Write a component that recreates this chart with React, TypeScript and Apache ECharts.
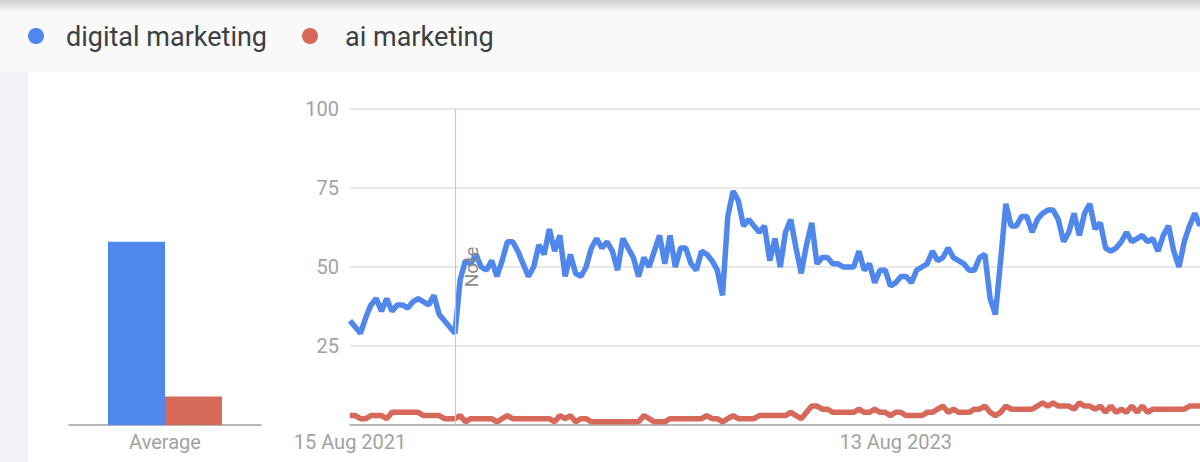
import { useEffect, useRef } from 'react';
import * as echarts from 'echarts';

const seriesNames = ['digital marketing', 'ai marketing'];
const seriesColors = ['#4f87ec', '#d7695b'];

// weekly interest, starting 15 Aug 2021
const digitalMarketing = [
  33, 31, 29, 34, 38, 40, 36, 40, 36, 38,
  38, 37, 39, 40, 39, 38, 41, 35, 33, 31,
  29, 46, 52, 51, 54, 50, 49, 52, 47, 52,
  58, 58, 55, 51, 47, 50, 57, 54, 62, 55,
  60, 47, 54, 48, 47, 50, 56, 59, 56, 58,
  55, 49, 59, 56, 53, 47, 53, 50, 55, 60,
  51, 60, 50, 56, 56, 51, 49, 55, 54, 52,
  49, 41, 66, 74, 71, 63, 65, 63, 61, 63,
  52, 59, 50, 61, 65, 56, 48, 57, 64, 51,
  53, 53, 51, 51, 50, 50, 50, 55, 49, 51,
  45, 49, 49, 44, 45, 47, 47, 45, 49, 50,
  51, 55, 52, 53, 56, 53, 52, 51, 49, 49,
  53, 54, 40, 35, 52, 70, 63, 63, 66, 66,
  61, 65, 67, 68, 68, 65, 58, 61, 67, 60,
  67, 70, 62, 64, 56, 55, 56, 58, 61, 58,
  59, 60, 58, 59, 55, 60, 63, 55, 50, 58,
  63, 67, 63,
];
const aiMarketing = [
  3, 3, 2, 2, 3, 3, 3, 2, 4, 4,
  4, 4, 4, 4, 3, 3, 3, 3, 2, 2,
  2, 3, 1, 2, 2, 2, 2, 2, 1, 2,
  3, 2, 2, 2, 2, 2, 2, 2, 2, 1,
  3, 2, 3, 1, 2, 2, 1, 1, 1, 1,
  1, 1, 1, 1, 1, 1, 3, 2, 1, 1,
  1, 2, 2, 2, 2, 2, 2, 2, 3, 2,
  2, 1, 2, 3, 2, 2, 2, 2, 3, 3,
  3, 3, 3, 3, 4, 3, 2, 4, 6, 6,
  5, 5, 4, 4, 4, 4, 4, 5, 4, 4,
  5, 4, 4, 3, 4, 4, 3, 3, 3, 3,
  4, 4, 5, 6, 4, 5, 4, 4, 4, 5,
  5, 6, 4, 3, 4, 6, 5, 5, 5, 5,
  5, 6, 7, 6, 7, 6, 6, 6, 5, 7,
  6, 6, 5, 6, 4, 6, 4, 5, 4, 6,
  4, 6, 4, 5, 5, 5, 5, 5, 5, 5,
  6, 6, 6,
];
const averages = [58, 9];
const barCategories = ['Average'];
const yTicks = [0, 25, 50, 75, 100];
const xTickLabels = ['15 Aug 2021', '13 Aug 2023'];
const noteWeek = '2 Jan 2022';

const months = ['Jan', 'Feb', 'Mar', 'Apr', 'May', 'Jun', 'Jul', 'Aug', 'Sep', 'Oct', 'Nov', 'Dec'];
const startDay = Date.UTC(2021, 7, 15);
const weeks = digitalMarketing.map((_, i) => {
  const d = new Date(startDay + i * 7 * 86400000);
  return `${d.getUTCDate()} ${months[d.getUTCMonth()]} ${d.getUTCFullYear()}`;
});

const labelColor = '#a2a2a2';
const font = 'Roboto, sans-serif';

const TrendsChart = () => {
  const chartRef = useRef<HTMLDivElement>(null);

  useEffect(() => {
    if (!chartRef.current) return;
    const chart = echarts.init(chartRef.current, undefined, { renderer: 'svg' });

    const option: echarts.EChartsOption = {
      animation: false,
      backgroundColor: '#ffffff',
      textStyle: { fontFamily: font },
      graphic: [
        { type: 'rect', z: -10, shape: { x: 0, y: 0, width: 1200, height: 72 }, style: { fill: '#f9f9f9' } },
        {
          type: 'rect', z: -9, shape: { x: 0, y: 0, width: 1200, height: 12 },
          style: {
            fill: new echarts.graphic.LinearGradient(0, 0, 0, 1, [
              { offset: 0, color: '#cdcdcd' },
              { offset: 1, color: '#f9f9f9' },
            ]),
          },
        },
        { type: 'rect', z: -10, shape: { x: 0, y: 72, width: 28, height: 390 }, style: { fill: '#f1f3f7' } },
        { type: 'circle', shape: { cx: 36, cy: 36, r: 8 }, style: { fill: seriesColors[0] } },
        {
          type: 'text', x: 66, y: 37,
          style: { text: seriesNames[0], fontSize: 27, fontFamily: font, fill: '#3c4043', verticalAlign: 'middle' },
        },
        { type: 'circle', shape: { cx: 310, cy: 36, r: 8 }, style: { fill: seriesColors[1] } },
        {
          type: 'text', x: 345, y: 37,
          style: { text: seriesNames[1], fontSize: 27, fontFamily: font, fill: '#3c4043', verticalAlign: 'middle' },
        },
      ],
      grid: [
        { left: 69, top: 109, width: 192, bottom: 37 },
        { left: 350, top: 109, right: 0, bottom: 37 },
      ],
      xAxis: [
        {
          type: 'category',
          gridIndex: 0,
          data: barCategories,
          axisTick: { show: false },
          axisLine: { lineStyle: { color: '#9e9e9e', width: 1.5 } },
          axisLabel: { color: labelColor, fontSize: 20, margin: 7 },
        },
        {
          type: 'category',
          gridIndex: 1,
          data: weeks,
          boundaryGap: false,
          axisTick: { show: false },
          axisLine: { lineStyle: { color: '#a8a8a8', width: 1.5 } },
          axisLabel: {
            color: labelColor,
            fontSize: 20,
            margin: 7,
            interval: (_i: number, value: string) => xTickLabels.includes(value),
          },
        },
      ],
      yAxis: [
        { type: 'value', gridIndex: 0, min: 0, max: 100, show: false },
        {
          type: 'value',
          gridIndex: 1,
          min: yTicks[0],
          max: yTicks[yTicks.length - 1],
          interval: 25,
          axisLine: { show: false },
          axisTick: { show: false },
          axisLabel: {
            color: labelColor,
            fontSize: 20,
            margin: 11,
            formatter: (v: number) => (v === 0 ? '' : String(v)),
          },
          splitLine: { lineStyle: { color: '#e2e2e2', width: 1.5 } },
        },
      ],
      series: [
        {
          name: seriesNames[0], type: 'bar', xAxisIndex: 0, yAxisIndex: 0,
          data: [averages[0]], barWidth: 57, barGap: '0%',
          itemStyle: { color: seriesColors[0] },
        },
        {
          name: seriesNames[1], type: 'bar', xAxisIndex: 0, yAxisIndex: 0,
          data: [averages[1]], barWidth: 57, barGap: '0%',
          itemStyle: { color: seriesColors[1] },
        },
        {
          name: seriesNames[1], type: 'line', xAxisIndex: 1, yAxisIndex: 1,
          data: aiMarketing, showSymbol: false, z: 2,
          lineStyle: { color: seriesColors[1], width: 5.5 },
          itemStyle: { color: seriesColors[1] },
          markLine: {
            silent: true,
            symbol: ['none', 'none'],
            lineStyle: { color: '#c9c9c9', width: 1.2, type: 'solid' },
            label: {
              formatter: 'Note',
              position: 'insideMiddleBottom',
              color: '#8a8a8a',
              fontSize: 19,
              distance: 7,
            },
            data: [{ xAxis: noteWeek }],
          },
        },
        {
          name: seriesNames[0], type: 'line', xAxisIndex: 1, yAxisIndex: 1,
          data: digitalMarketing, showSymbol: false, z: 3,
          lineStyle: { color: seriesColors[0], width: 5.5 },
          itemStyle: { color: seriesColors[0] },
        },
      ],
    };

    chart.setOption(option);
    return () => {
      chart.dispose();
    };
  }, []);

  return (
    <div
      ref={chartRef}
      style={{ position: 'absolute', left: 0, top: 0, width: '1200px', height: '462px' }}
    />
  );
};

export default function App() {
  return <TrendsChart />;
}
